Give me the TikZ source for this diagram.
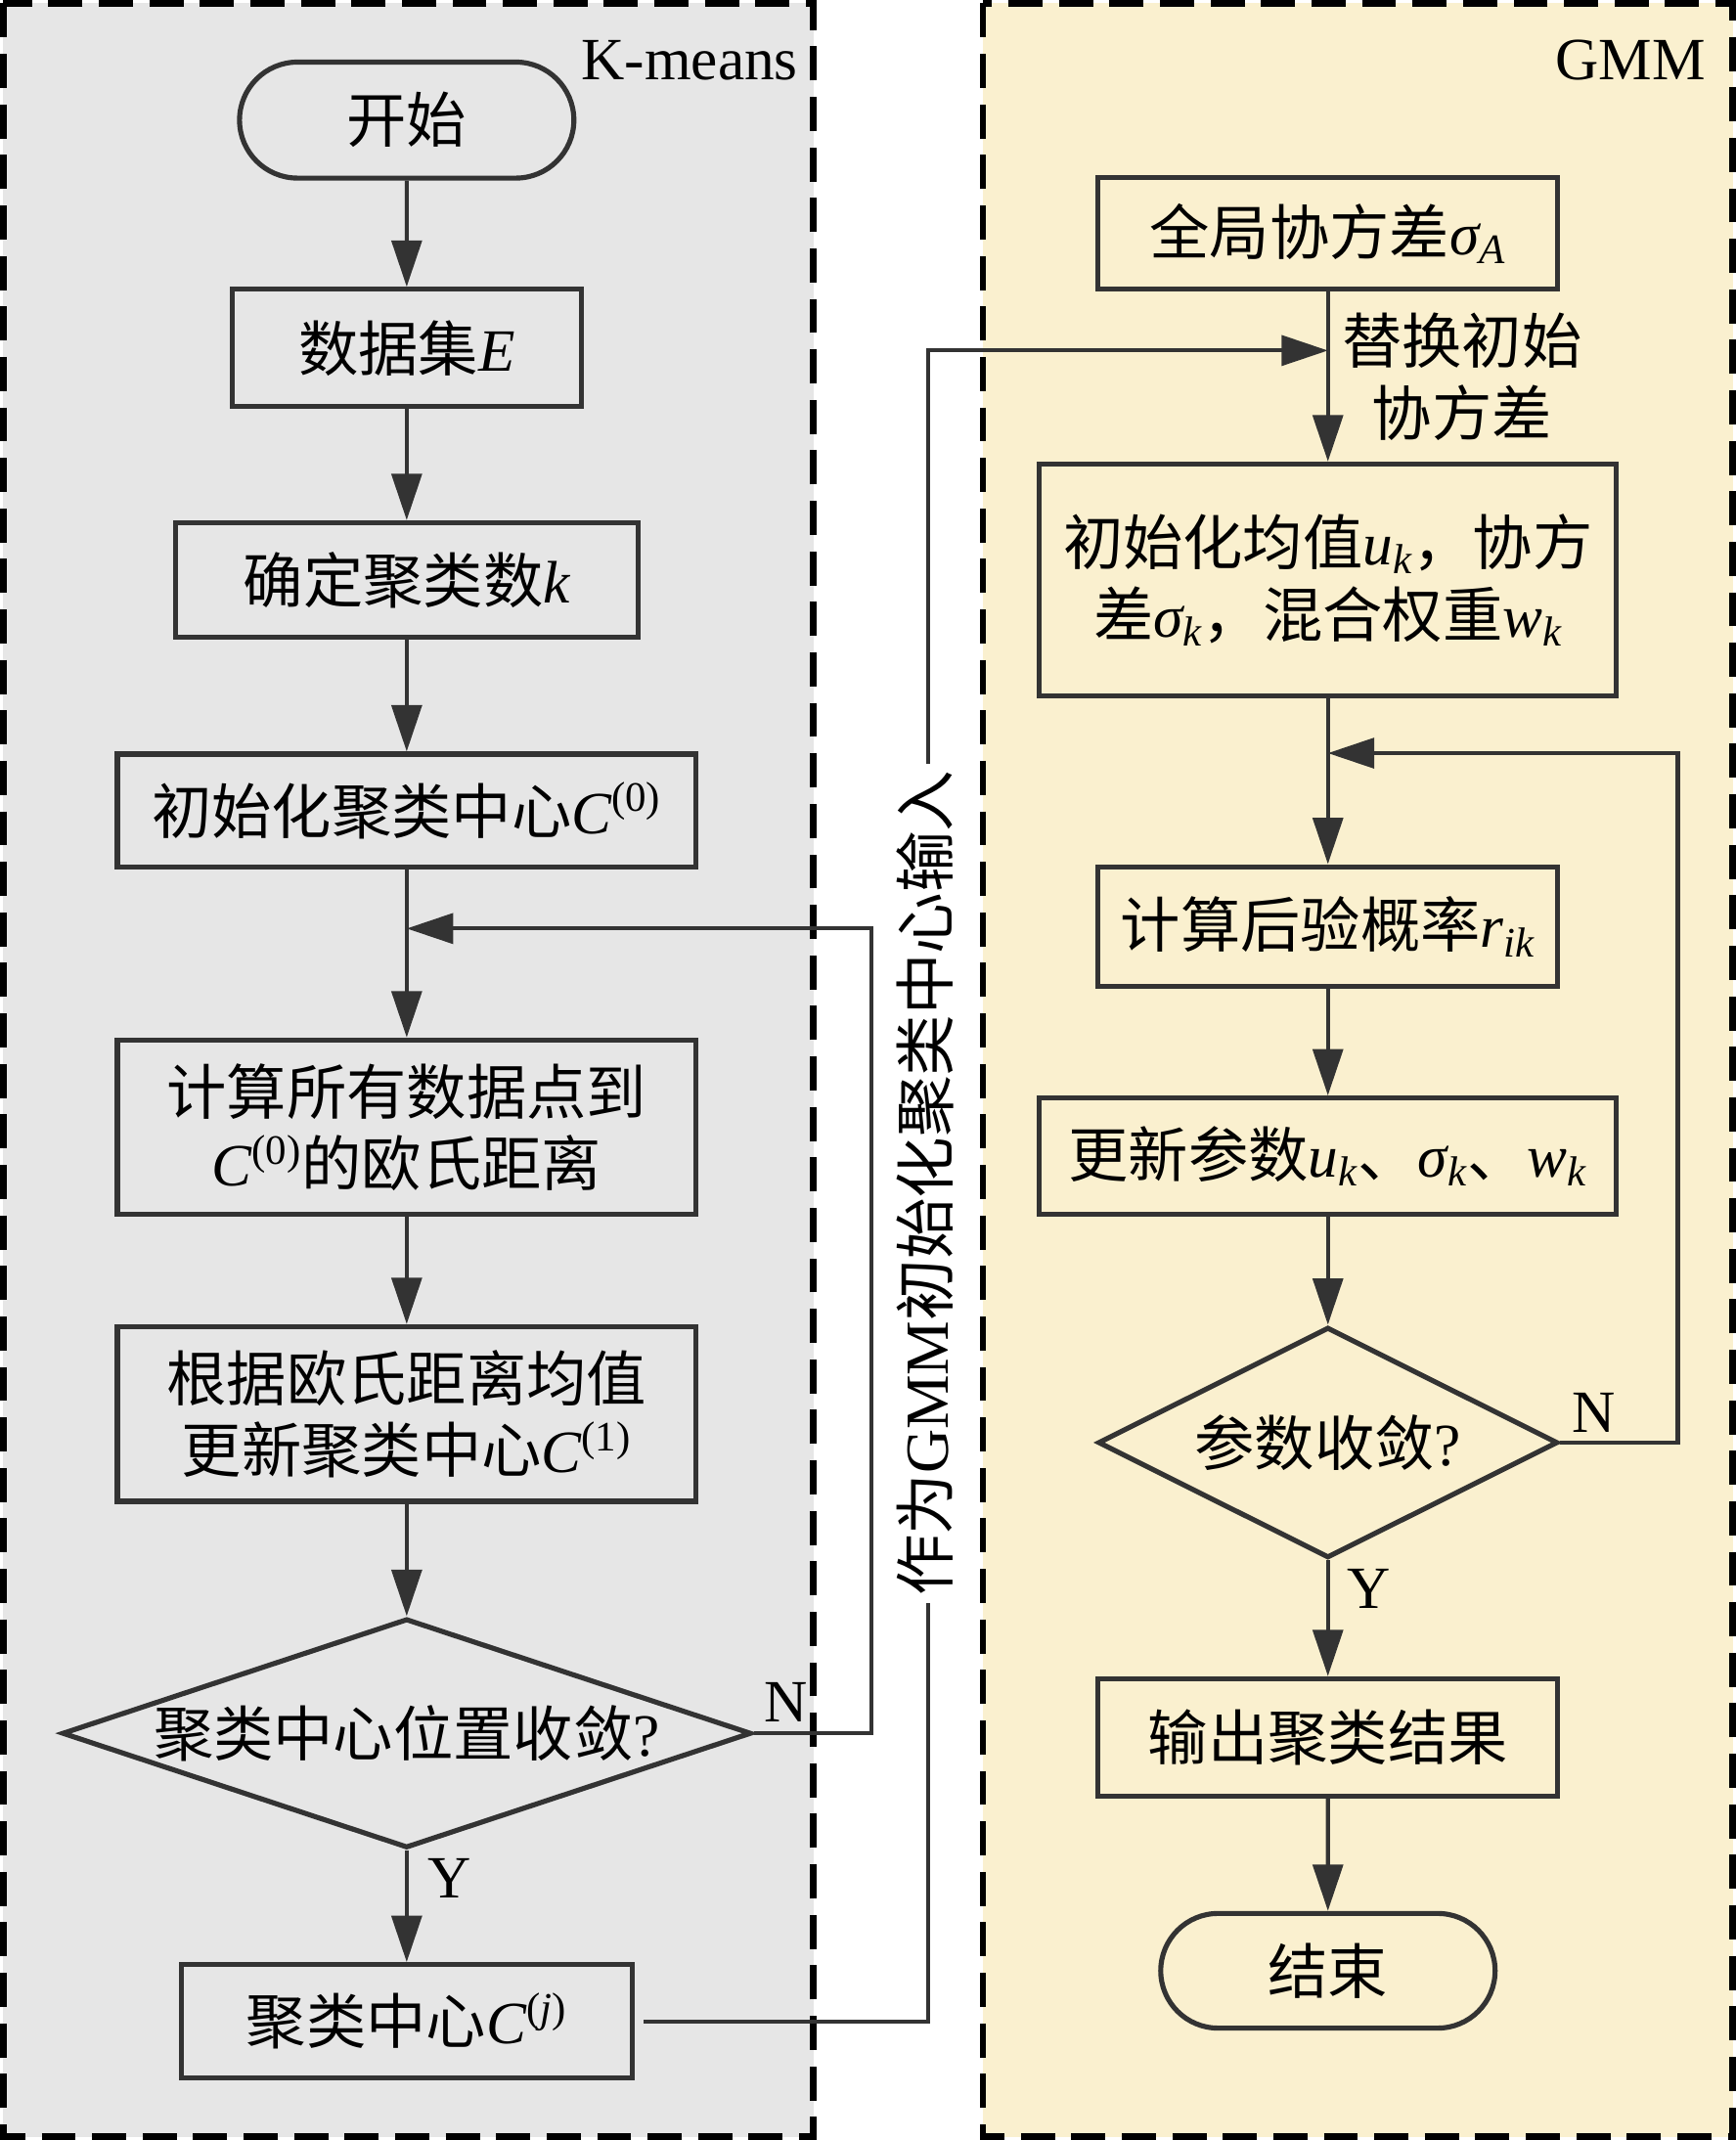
\documentclass[tikz,border=0pt]{standalone}
\usepackage{fontspec}
\setmainfont{Liberation Serif}
\newfontfamily\cjk{Noto Sans CJK SC}
\usepackage{tikz}
\usetikzlibrary{arrows.meta,positioning,shapes.geometric,shapes.misc,calc}

\definecolor{kmfill}{RGB}{230,230,230}
\definecolor{gmfill}{RGB}{250,240,207}
\definecolor{ink}{RGB}{51,51,51}

\newcommand{\va}[1]{{\rmfamily\itshape #1}}
\newcommand{\qm}{{\rmfamily ?}}

\tikzset{
  proc/.style={rectangle,draw=ink,line width=2.1pt,inner sep=0pt,align=center},
  term/.style={rounded rectangle,draw=ink,line width=2.1pt,inner sep=0pt},
  decide/.style={diamond,draw=ink,line width=2.1pt,inner sep=0pt},
  flow/.style={draw=ink,line width=1.7pt,-{Triangle[length=0.68cm,width=0.44cm]}},
  panel/.style={line width=2.6pt,dash pattern=on 0.5cm off 0.24cm},
  latin/.style={font=\rmfamily\fontsize{25}{29}\selectfont,inner sep=0pt}
}

\begin{document}
\begin{tikzpicture}[node distance=3.4cm,on grid,font=\cjk\fontsize{25}{30}\selectfont]
   \useasboundingbox (0,0) rectangle (25.44,-31.36);
   % panels
   \draw[panel,fill=kmfill] (0.05,-0.05) rectangle (11.92,-31.31);
   \draw[panel,fill=gmfill] (14.4,-0.05) rectangle (25.39,-31.31);
   \node[latin,anchor=east] (km) at (11.7,-0.88) {K-means};
   \node[latin,anchor=east] (gm) at (25.0,-0.88) {GMM};

   % K-means
   \node[term,minimum width=4.9cm,minimum height=1.7cm] (start) at (5.96,-1.76) {开始};
   \node[proc,minimum width=5.12cm,minimum height=1.72cm] (data) [below=3.34cm of start] {数据集\va{E}};
   \node[proc,minimum width=6.78cm,minimum height=1.68cm] (kset) [below=of data] {确定聚类数\va{k}};
   \node[proc,minimum width=8.48cm,minimum height=1.66cm] (init0) [below=3.38cm of kset] {初始化聚类中心\va{C}\textsuperscript{\rmfamily(0)}};
   \node[proc,minimum width=8.48cm,minimum height=2.56cm] (dist) [below=4.64cm of init0] {计算所有数据点到\\\va{C}\textsuperscript{\rmfamily(0)}的欧氏距离};
   \node[proc,minimum width=8.48cm,minimum height=2.56cm] (update) [below=4.2cm of dist] {根据欧氏距离均值\\更新聚类中心\va{C}\textsuperscript{\rmfamily(1)}};
   \node[decide,aspect=3,minimum width=10.1cm,minimum height=3.36cm] (conv1) [below=4.68cm of update] {聚类中心位置收敛\qm};
   \node[proc,minimum width=6.6cm,minimum height=1.66cm] (cj) [below=4.22cm of conv1] {聚类中心\va{C}\textsuperscript{\rmfamily(\textit{j})}};

   % GMM
   \node[proc,minimum width=6.74cm,minimum height=1.64cm] (cov) at (19.46,-3.42) {全局协方差\va{σ}\textsubscript{\va{A}}};
   \node[proc,minimum width=8.46cm,minimum height=3.4cm] (gminit) [below=5.08cm of cov] {初始化均值\va{u}\textsubscript{\va{k}}，协方\\差\va{σ}\textsubscript{\va{k}}，混合权重\va{w}\textsubscript{\va{k}}};
   \node[proc,minimum width=6.74cm,minimum height=1.76cm] (post) [below=5.08cm of gminit] {计算后验概率\va{r}\textsubscript{\va{ik}}};
   \node[proc,minimum width=8.46cm,minimum height=1.7cm] (param) [below=3.36cm of post] {更新参数\va{u}\textsubscript{\va{k}}、\va{σ}\textsubscript{\va{k}}、\va{w}\textsubscript{\va{k}}};
   \node[decide,aspect=2,minimum width=6.74cm,minimum height=3.38cm] (conv2) [below=4.2cm of param] {参数收敛\qm};
   \node[proc,minimum width=6.74cm,minimum height=1.72cm] (output) [below=4.32cm of conv2] {输出聚类结果};
   \node[term,minimum width=4.9cm,minimum height=1.68cm] (stop) [below=3.42cm of output] {结束};

   % junctions
   \coordinate[below=0.86cm of init0.south] (j1);
   \coordinate[below=0.8cm of gminit.south] (j2);
   \coordinate[below=0.86cm of cov.south] (j3);

   \foreach \a/\b in {start/data,data/kset,kset/init0,init0/dist,dist/update,update/conv1,conv1/cj,
                      cov/gminit,gminit/post,post/param,param/conv2,conv2/output,output/stop}
      \draw[flow] (\a) -- (\b);

   % loops
   \draw[flow] (conv1.east) -- ++(1.72,0) |- (j1);
   \draw[flow] (conv2.east) -- ++(1.72,0) |- (j2);
   \node[latin,anchor=south west] (n1) at ($(conv1.east)+(0.14,0.16)$) {N};
   \node[latin,anchor=north west] (y1) at ($(conv1.south)+(0.3,-0.12)$) {Y};
   \node[latin,anchor=south west] (n2) at ($(conv2.east)+(0.16,0.14)$) {N};
   \node[latin,anchor=north west] (y2) at ($(conv2.south)+(0.28,-0.12)$) {Y};

   % K-means to GMM
   \draw[flow,shorten <=0.14cm] (cj.east) -- ++(4.3,0) |- (j3);
   \node[rotate=90,fill=white,inner sep=0.1cm,font=\cjk\fontsize{25.5}{30}\selectfont] (feed) at (13.56,-17.34) {作为{\rmfamily GMM}初始化聚类中心输入};
   \node[anchor=west,align=center,inner sep=0pt] (swap) at ($(cov.south)!0.5!(gminit.north)+(0.2,0)$) {替换初始\\协方差};
\end{tikzpicture}
\end{document}
